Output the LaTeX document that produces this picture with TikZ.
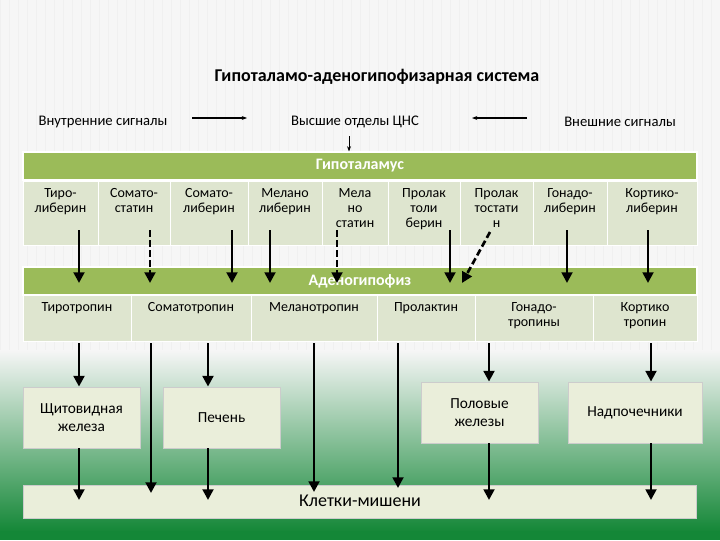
\documentclass[tikz,border=0pt]{standalone}
\usepackage{fontspec}
\setmainfont{Carlito}
\usetikzlibrary{arrows.meta}
\definecolor{barg}{RGB}{155,187,89}
\definecolor{cellg}{RGB}{222,229,207}
\definecolor{boxg}{RGB}{234,238,218}
\definecolor{bgg}{RGB}{20,135,55}
\definecolor{paper}{RGB}{246,246,246}
\tikzset{
  bar/.style={fill=barg,draw=white,line width=0.8pt,text=white,font=\bfseries\fontsize{12}{13}\selectfont},
  cell/.style={fill=cellg,draw=white,line width=1pt,anchor=north west},
  ctext/.style={align=center,anchor=north,inner sep=0pt,font=\fontsize{10.5}{11.5}\selectfont},
  organ/.style={fill=boxg,draw=gray!40,line width=0.6pt,align=center,font=\fontsize{11.5}{13}\selectfont},
  arr/.style={line width=2pt,-{Triangle[length=8pt,width=8pt]}},
  darr/.style={arr,dash pattern=on 5pt off 2.5pt},
  thin/.style={line width=0.8pt,-{Stealth[length=4pt]}},
  lbl/.style={font=\fontsize{11}{12}\selectfont}
}
\begin{document}
\begin{tikzpicture}[x=0.75pt,y=-0.75pt]
\useasboundingbox (0,0) rectangle (720,540);
\fill[paper] (0,0) rectangle (720,540);
\draw[gray!12,step=9] (0,0) grid (720,360);
\shade[top color=paper,bottom color=bgg] (0,350) rectangle (720,532);
\fill[bgg] (0,531) rectangle (720,540);
% title and signals
\node[font=\bfseries\fontsize{13.5}{15}\selectfont] (title) at (377,77) {Гипоталамо-аденогипофизарная система};
\node[lbl] (vn) at (103,122) {Внутренние сигналы};
\node[lbl] (cns) at (355,122) {Высшие отделы ЦНС};
\node[lbl] (ext) at (620,122) {Внешние сигналы};
\coordinate (a1) at (192,118); \coordinate (a2) at (247,118);
\coordinate (b1) at (527,118); \coordinate (b2) at (472,118);
\draw[thin] (a1) -- (a2);
\draw[thin] (b1) -- (b2);
% hypothalamus
\node[bar,minimum width=674*0.75pt,minimum height=28*0.75pt] (hyp) at (360,166) {Гипоталамус};
\draw[thin,line width=0.6pt] (349,136) -- (hyp.north -| 349,0);
\foreach \x/\w/\t [count=\i] in {23/75/{Тиро-\\либерин},98/72/{Сомато-\\статин},170/78/{Сомато-\\либерин},248/74/{Мелано\\либерин},322/66/{Мела\\но\\статин},388/72/{Пролак\\толи\\берин},460/73/{Пролак\\тостати\\н},533/74/{Гонадо-\\либерин},607/90/{Кортико-\\либерин}}
  \node[cell,minimum width=\w*0.75pt,minimum height=64*0.75pt] (h\i) at (\x,181) {}
    node[ctext] at (\x+\w/2,188) {\t};
% adenohypophysis
\node[bar,minimum width=674*0.75pt,minimum height=28*0.75pt] (aden) at (360,281) {Аденогипофиз};
\foreach \x/\w/\t [count=\i] in {23/108/{Тиротропин},131/120/{Соматотропин},251/126/{Меланотропин},377/98/{Пролактин},475/118/{Гонадо-\\тропины},593/104/{Кортико\\тропин}}
  \node[cell,minimum width=\w*0.75pt,minimum height=46*0.75pt] (p\i) at (\x,295) {}
    node[ctext] at (\x+\w/2,302) {\t};
% arrows hypothalamus -> adenohypophysis
\foreach \x in {79,232,270,450,567,648} \draw[arr] (\x,230) -- (\x,283);
\foreach \x in {150,337} \draw[darr] (\x,230) -- (\x,283);
\draw[darr] (490,232) -- (462,283);
% organs and target cells
\node[organ,minimum width=117*0.75pt,minimum height=61*0.75pt] (thy) at (81.5,417.5) {Щитовидная\\железа};
\node[organ,minimum width=117*0.75pt,minimum height=61*0.75pt] (liv) at (221.5,417.5) {Печень};
\node[organ,minimum width=117*0.75pt,minimum height=61*0.75pt] (sex) at (479.5,412.5) {Половые\\железы};
\node[organ,minimum width=134*0.75pt,minimum height=61*0.75pt] (adr) at (635,412.5) {Надпочечники};
\node[fill=boxg,draw=gray!40,minimum width=673*0.75pt,minimum height=33*0.75pt,anchor=north] (cells) at (359.5,485) {};
\node[font=\fontsize{13.5}{15}\selectfont] (celltext) at (360,501) {Клетки-мишени};
\foreach \x/\n in {79/thy,208/liv,489/sex,651/adr} {
  \draw[arr] (\x,343) -- (\n.north -| \x,0);
  \draw[arr] (\n.south -| \x,0) -- (\x,500);
}
\draw[arr] (151,343) -- (151,493);
\draw[arr] (314,343) -- (314,492);
\draw[arr] (398,343) -- (398,488);
\end{tikzpicture}
\end{document}
